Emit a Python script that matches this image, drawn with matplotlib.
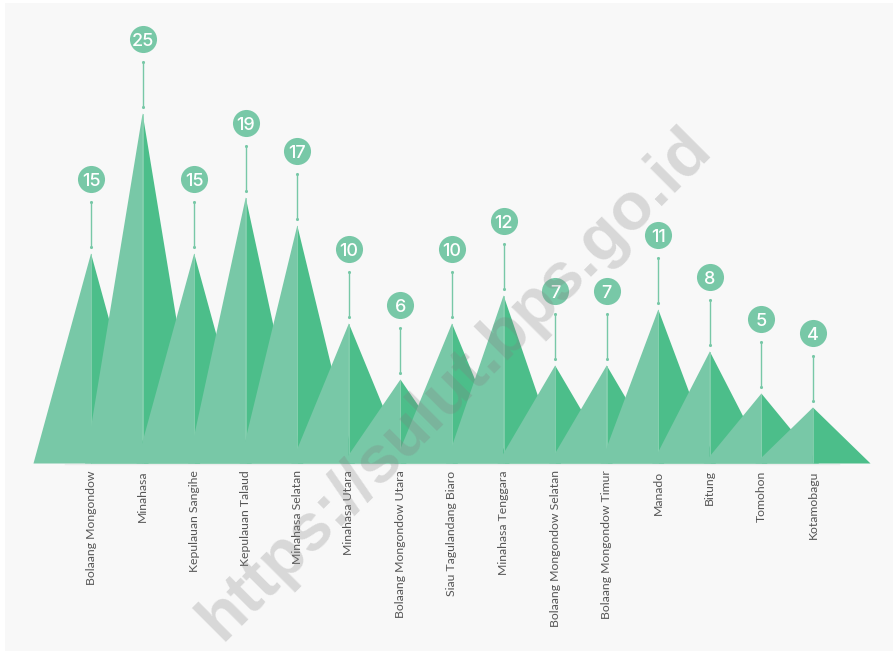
import numpy as np
import matplotlib
matplotlib.use("Agg")
import matplotlib.pyplot as plt
from matplotlib.patches import Polygon, Rectangle

# data
regions = [
    "Bolaang Mongondow", "Minahasa", "Kepulauan Sangihe", "Kepulauan Talaud",
    "Minahasa Selatan", "Minahasa Utara", "Bolaang Mongondow Utara",
    "Siau Tagulandang Biaro", "Minahasa Tenggara", "Bolaang Mongondow Selatan",
    "Bolaang Mongondow Timur", "Manado", "Bitung", "Tomohon", "Kotamobagu",
]
values = [15, 25, 15, 19, 17, 10, 6, 10, 12, 7, 7, 11, 8, 5, 4]

LIGHT = "#78c8a7"
DARK = "#4cbe8a"
W, H = 895, 652

fig = plt.figure(figsize=(W / 100, H / 100), dpi=100, facecolor="white")
fig.patches.append(Rectangle((5 / W, 1 / H), 888 / W, 648 / H,
                             transform=fig.transFigure, facecolor="#f8f8f8",
                             edgecolor="none", zorder=-5))

# axes placed so one category = ~51.5 px, one unit = 14 px
ax = fig.add_axes([65.25 / W, 188.5 / H, 773.5 / W, 434 / H])
ax.set_zorder(2)
ax.set_xlim(-0.5, len(regions) - 0.5)
ax.set_ylim(0, 31)
ax.patch.set_alpha(0)
for s in ax.spines.values():
    s.set_visible(False)
ax.set_yticks([])

half = 1.116  # half base width in category units
for i, v in enumerate(values):
    z = 2 + i * 0.1
    ax.add_patch(Polygon([(i - half, 0), (i, v), (i, 0)], closed=True,
                         facecolor=LIGHT, edgecolor="none", zorder=z,
                         clip_on=False))
    ax.add_patch(Polygon([(i, 0), (i, v), (i + half, 0)], closed=True,
                         facecolor=DARK, edgecolor="none", zorder=z + 0.01,
                         clip_on=False))
    ax.plot([i, i], [0, v], color="#8ad2b2", lw=0.6, zorder=z + 0.02)

# baseline
ax.plot([-0.5, len(regions) - 0.5], [0, 0], color="#ececec", lw=1.0,
        zorder=1, clip_on=False)

# connector lines + value bubbles
for i, v in enumerate(values):
    y0, y1 = v + 0.5, v + 3.65
    ax.plot([i, i], [y0, y1], color=LIGHT, lw=1.0, zorder=5, clip_on=False)
    ax.scatter([i, i], [y0, y1], s=5, color=LIGHT, zorder=5, clip_on=False,
               linewidths=0)
    ax.scatter([i], [v + 5.29], s=380, color=LIGHT, zorder=6, clip_on=False,
               linewidths=0)
    ax.text(i, v + 5.29, str(v), ha="center", va="center_baseline",
            color="white", fontsize=13, family="Inter", fontweight="medium",
            zorder=7, clip_on=False)

ax.set_xticks(range(len(regions)))
ax.set_xticklabels(regions, rotation=90, ha="center", va="top",
                   fontsize=8.8, color="#555555", family="Lato")
ax.tick_params(axis="x", length=0, pad=5)

# watermark
fig.text(455 / W, 1 - 384 / H, "https://sulut.bps.go.id", rotation=45,
         rotation_mode="anchor", ha="center", va="center", fontsize=48,
         family="Liberation Sans", fontweight="bold", color="#808080",
         alpha=0.27, zorder=20)

fig.savefig("out.png", dpi=100, facecolor="white")
